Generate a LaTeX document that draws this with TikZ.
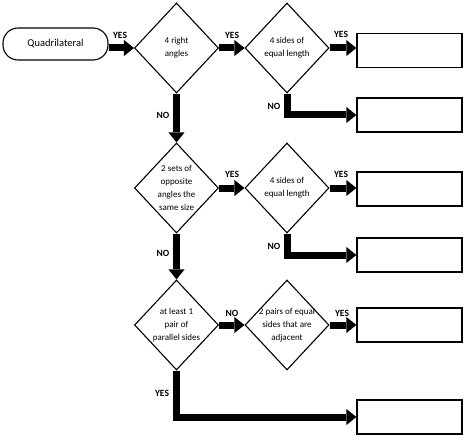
\documentclass[tikz,border=0pt]{standalone}
\usepackage{fontspec}
\setmainfont{Carlito}
\usetikzlibrary{shapes.geometric,arrows.meta}
\begin{document}
\begin{tikzpicture}[x=1pt,y=-1pt,
  dec/.style={diamond, draw, line width=1.1pt, fill=white, minimum width=84pt, minimum height=90pt, inner sep=0pt},
  dtext/.style={align=center, inner sep=0pt, font=\fontsize{9}{13}\selectfont},
  term/.style={draw, line width=1.1pt, rounded corners=15pt, minimum width=105pt, minimum height=32pt, inner sep=0pt, font=\fontsize{10.5}{12}\selectfont},
  res/.style={draw, line width=1.2pt, minimum width=105pt, minimum height=34pt, inner sep=0pt},
  flow/.style={line width=7pt, line join=miter, -{Triangle[width=16pt,length=10pt,line width=0pt]}},
  lab/.style={font=\bfseries\fontsize{9.5}{11}\selectfont, inner sep=0pt}]
\useasboundingbox (0,0) rectangle (474,441);

\node[term] (q) at (55.5,44) {Quadrilateral};

\node[dec] (d1) at (176.5,48) {};
\node[dec] (d2) at (287,48) {};
\node[dec] (d3) at (176.5,188) {};
\node[dec] (d4) at (287,188) {};
\node[dec] (d5) at (176.5,325) {};
\node[dec] (d6) at (287,325) {};

\node[dtext] (t1) at (d1) {4 right\\angles};
\node[dtext] (t2) at (d2) {4 sides of\\equal length};
\node[dtext] (t3) at (d3) {2 sets of\\opposite\\angles the\\same size};
\node[dtext] (t4) at (d4) {4 sides of\\equal length};
\node[dtext] (t5) at (d5) {at least 1\\pair of\\parallel sides};
\node[dtext] (t6) at (d6) {2 pairs of equal\\sides that are\\adjacent};

\node[res] (b1) at (409.5,50.5) {};
\node[res] (b2) at (409.5,115) {};
\node[res] (b3) at (409.5,189) {};
\node[res] (b4) at (409.5,255) {};
\node[res] (b5) at (409.5,325) {};
\node[res] (b6) at (409.5,417) {};

\draw[flow] (q.east |- d1.west) -- (d1.west);
\draw[flow] (d1.east) -- (d2.west);
\draw[flow] (d2.east) -- (d2.east -| b1.west);
\draw[flow] (d2.south) |- (b2.west);
\draw[flow] (d1.south) -- (d3.north);
\draw[flow] (d3.east) -- (d4.west);
\draw[flow] (d4.east) -- (d4.east -| b3.west);
\draw[flow] (d4.south) |- (b4.west);
\draw[flow] (d3.south) -- (d5.north);
\draw[flow] (d5.east) -- (d6.west);
\draw[flow] (d6.east) -- (d6.east -| b5.west);
\draw[flow] (d5.south) |- (b6.west);

\node[lab] (l1) at (120,35) {YES};
\node[lab] (l2) at (232,35) {YES};
\node[lab] (l3) at (341,34) {YES};
\node[lab] (l4) at (274,106) {NO};
\node[lab] (l5) at (163,115) {NO};
\node[lab] (l6) at (232,174) {YES};
\node[lab] (l7) at (341,174) {YES};
\node[lab] (l8) at (274,246) {NO};
\node[lab] (l9) at (163,253) {NO};
\node[lab] (l10) at (232,313) {NO};
\node[lab] (l11) at (342,313) {YES};
\node[lab] (l12) at (162,393) {YES};
\end{tikzpicture}
\end{document}
